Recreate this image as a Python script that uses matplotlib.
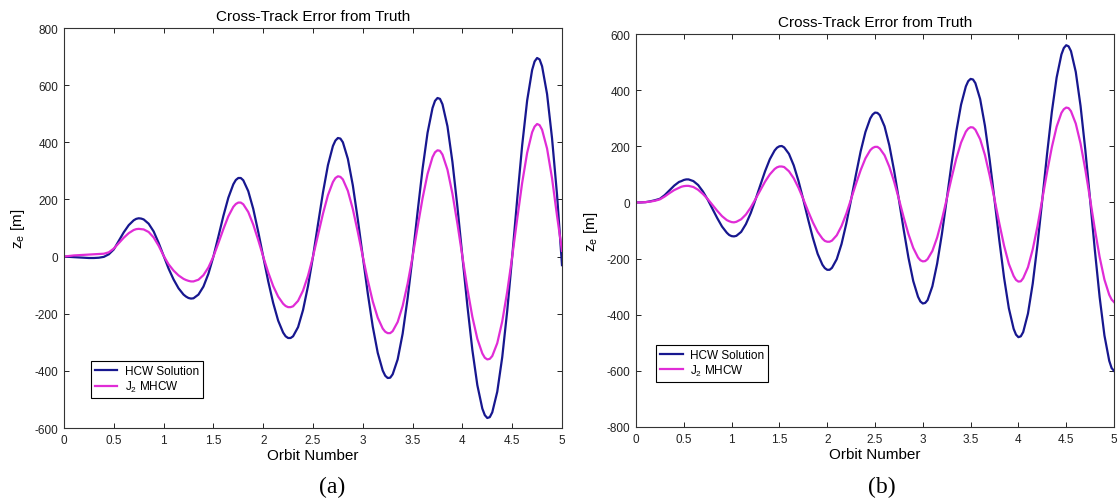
import numpy as np
import matplotlib
matplotlib.use("Agg")
import matplotlib.pyplot as plt
from matplotlib.ticker import MultipleLocator, FormatStrFormatter

plt.rcParams['font.family'] = ['Liberation Sans', 'DejaVu Sans']
plt.rcParams['mathtext.default'] = 'regular'
plt.rcParams['axes.unicode_minus'] = False

# orbit samples: every 0.05 orbit, plus a few extra near the extrema
base = np.round(np.arange(0, 5.001, 0.05), 3)
extra_a = [0.725, 0.775] + [k + d for k in range(1, 5)
                            for d in (0.225, 0.275, 0.725, 0.775)]
extra_b = [k + d for k in range(5) for d in (0.475, 0.525)] + \
          [k + d for k in range(1, 5) for d in (-0.025, 0.025)] + [4.975]
orbit_a = np.sort(np.concatenate([base, extra_a]))
orbit_b = np.sort(np.concatenate([base, extra_b]))

# (a) cross-track error [m]
hcw_a = [0, -1, -2, -3, -4, -5, -5, -4, -1, 8,
         25, 55, 85, 110, 127, 132, 134, 133, 130, 115, 88, 48,
         3,
         -42, -80, -111, -133, -140, -145, -147, -146, -133, -105, -60,
         0,
         70, 142, 206, 253, 268, 275, 275, 267, 229, 167, 87,
         0,
         -86, -162, -224, -266, -279, -285, -285, -279, -247, -187, -103,
         0,
         113, 224, 320, 387, 406, 415, 413, 400, 342, 249, 130,
         0,
         -129, -245, -337, -399, -417, -425, -424, -412, -360, -270, -146,
         0,
         156, 307, 433, 520, 545, 555, 552, 533, 456, 331, 174,
         0,
         -172, -327, -450, -532, -555, -565, -562, -545, -473, -352, -190,
         0,
         200, 389, 546, 653, 683, 695, 690, 666, 569, 414, 217,
         -30]
mhcw_a = [0, 2, 4, 5, 6, 7, 8, 9, 10, 15,
          28, 47, 66, 82, 93, 96, 97, 96, 95, 86, 67, 38,
          3,
          -27, -49, -66, -78, -82, -85, -87, -87, -81, -65, -38,
          0,
          47, 96, 141, 174, 184, 189, 189, 183, 156, 112, 58,
          0,
          -55, -103, -140, -165, -173, -177, -177, -174, -155, -119, -67,
          0,
          75, 150, 215, 261, 275, 281, 279, 270, 230, 166, 86,
          0,
          -83, -157, -214, -252, -263, -268, -268, -261, -229, -173, -95,
          0,
          103, 204, 289, 348, 365, 372, 370, 357, 304, 220, 115,
          0,
          -112, -211, -288, -339, -354, -360, -358, -348, -303, -227, -123,
          0,
          131, 258, 363, 435, 455, 464, 460, 444, 378, 274, 143,
          20]

# (b) cross-track error [m]
hcw_b = [0, 0, 1, 4, 8, 13, 26, 43, 60, 73,
         76, 80, 82, 82, 76, 62, 39, 10, -23, -56, -86, -108,
         -116, -120, -121, -119, -105, -77, -38, 10, 61, 111, 154, 185,
         195, 200, 201, 196, 173, 132, 76, 10, -60, -126, -183, -222,
         -234, -240, -240, -233, -202, -148, -75, 10, 98, 182, 251, 299,
         313, 320, 319, 311, 271, 203, 113, 10, -97, -197, -280, -336,
         -353, -360, -358, -348, -299, -218, -112, 10, 136, 252, 348, 413,
         432, 440, 438, 425, 368, 273, 150, 10, -134, -268, -377, -450,
         -471, -480, -477, -462, -396, -289, -149, 10, 173, 323, 445, 527,
         550, 560, 556, 539, 465, 344, 187, 10, -171, -338, -474, -564,
         -590, -600]
mhcw_b = [0, 0, 1, 3, 6, 11, 21, 33, 44, 52,
          56, 58, 59, 59, 55, 45, 30, 12, -9, -30, -49, -63,
          -67, -70, -71, -69, -60, -43, -18, 12, 43, 74, 100, 119,
          125, 128, 128, 126, 111, 86, 52, 12, -31, -71, -105, -129,
          -137, -140, -140, -136, -117, -84, -40, 12, 65, 115, 157, 186,
          194, 198, 198, 192, 168, 127, 74, 12, -53, -113, -162, -196,
          -206, -210, -209, -202, -173, -125, -61, 12, 86, 156, 213, 252,
          263, 268, 267, 259, 225, 169, 95, 12, -74, -154, -219, -262,
          -276, -282, -281, -270, -231, -167, -84, 12, 108, 197, 270, 319,
          332, 338, 336, 325, 281, 210, 117, 12, -96, -195, -275, -329,
          -346, -355]

labels = ['HCW Solution', 'J$_2$ MHCW']
blue = '#17178f'
magenta = '#e02cd6'

W, H = 1118, 502
fig = plt.figure(figsize=(W / 100, H / 100), dpi=100)


def px_axes(l, t, r, b):
    return fig.add_axes([l / W, 1 - b / H, (r - l) / W, (b - t) / H])


def setup(ax, x, hcw, mhcw, ylim, leg_anchor, ylab_x):
    ax.plot(x, hcw, color=blue, lw=1.6, label=labels[0],
            solid_joinstyle='round')
    ax.plot(x, mhcw, color=magenta, lw=1.6, label=labels[1],
            solid_joinstyle='round')
    ax.set_xlim(0, 5)
    ax.set_ylim(*ylim)
    ax.xaxis.set_major_locator(MultipleLocator(0.5))
    ax.yaxis.set_major_locator(MultipleLocator(200))
    ax.xaxis.set_major_formatter(FormatStrFormatter('%g'))
    ax.tick_params(direction='in', top=True, right=True, length=3.5,
                   width=0.7, labelsize=8.5, pad=4, colors='#222222')
    for sp in ax.spines.values():
        sp.set_linewidth(0.8)
        sp.set_color('#333333')
    ax.set_title('Cross-Track Error from Truth', fontsize=11, pad=6)
    ax.set_xlabel('Orbit Number', fontsize=11, labelpad=2)
    ax.set_ylabel('z$_e$ [m]', fontsize=11)
    ax.yaxis.set_label_coords(ylab_x, 0.5)
    leg = ax.legend(loc='lower left', bbox_to_anchor=leg_anchor,
                    borderaxespad=0, fontsize=8.5, fancybox=False,
                    edgecolor='black', framealpha=1, handlelength=1.9,
                    handletextpad=0.6, labelspacing=0.15, borderpad=0.35)
    leg.get_frame().set_linewidth(0.8)


ax1 = px_axes(64, 29, 562, 429)
setup(ax1, orbit_a, hcw_a, mhcw_a, (-600, 800), (0.054, 0.075), -0.075)

ax2 = px_axes(636, 35, 1114, 428)
setup(ax2, orbit_b, hcw_b, mhcw_b, (-800, 600), (0.042, 0.115), -0.075)

fig.text(332 / W, 1 - 487 / H, '(a)', family='Liberation Serif',
         fontsize=17, ha='center', va='center')
fig.text(882 / W, 1 - 487 / H, '(b)', family='Liberation Serif',
         fontsize=17, ha='center', va='center')

fig.savefig('out.png', dpi=100)
